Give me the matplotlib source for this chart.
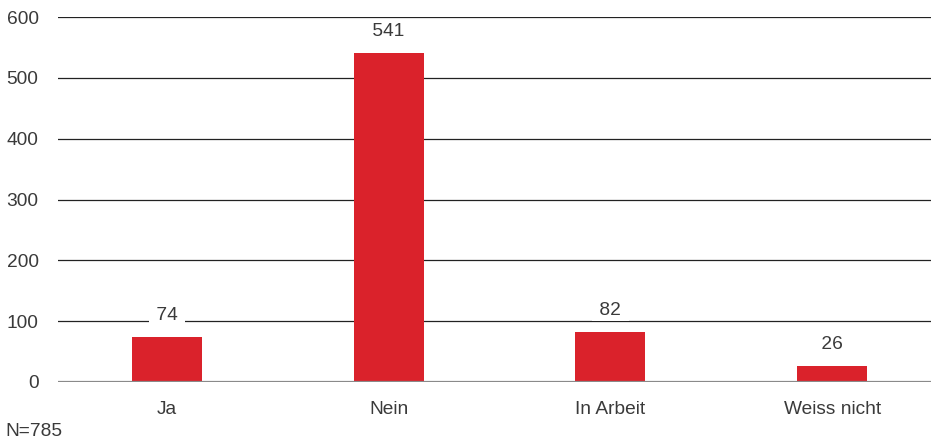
import matplotlib
matplotlib.use("Agg")
import matplotlib.pyplot as plt

categories = ["Ja", "Nein", "In Arbeit", "Weiss nicht"]
values = [74, 541, 82, 26]
y_ticks = [0, 100, 200, 300, 400, 500, 600]
note = "N=785"

plt.rcParams["font.family"] = ["Liberation Sans", "DejaVu Sans"]
text_color = "#3a3a3a"
bar_color = "#da222b"
fs = 13.8

fig = plt.figure(figsize=(9.31, 4.43), dpi=100)
ax = fig.add_axes([58 / 931, 61 / 443, 873 / 931, 365 / 443])

x = list(range(len(categories)))
ax.bar(x, values, width=0.316, color=bar_color, zorder=2)

ax.set_xlim(-0.4917, 3.446)
ax.set_ylim(0, 600)

for t in y_ticks:
    if t == 0:
        ax.axhline(t, color="#8a8a8a", lw=1.6, zorder=3)
    else:
        ax.axhline(t, color="#222222", lw=0.9, zorder=1)

ax.set_yticks(y_ticks)
ax.set_yticklabels([str(t) for t in y_ticks], fontsize=fs, color=text_color)
ax.set_xticks(x)
ax.set_xticklabels(categories, fontsize=fs, color=text_color)
ax.tick_params(axis="y", length=0, pad=14)
ax.tick_params(axis="x", length=0, pad=13.5)
for s in ax.spines.values():
    s.set_visible(False)

for xi, v in zip(x, values):
    ax.annotate(f" {v} ", (xi, v), xytext=(0, 15.5), textcoords="offset points",
                ha="center", va="center", fontsize=fs, color=text_color, zorder=4,
                bbox=dict(boxstyle="square,pad=0.12", fc="white", ec="none"))

fig.text(5 / 931, 1 - 431 / 443, note, fontsize=fs, color=text_color, va="center", ha="left")

fig.savefig("out.png", dpi=100, facecolor="white")
